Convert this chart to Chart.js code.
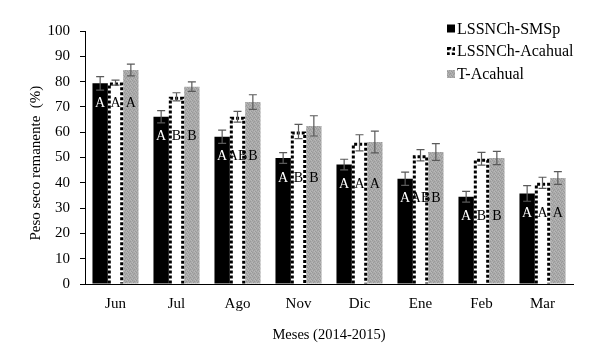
<!DOCTYPE html>
<html><head><meta charset="utf-8">
<script src="https://cdn.jsdelivr.net/npm/chart.js@4"></script>
<style>html,body{margin:0;padding:0;background:#fff}#c{display:block}</style>
</head><body>
<canvas id="c" width="609" height="355"></canvas>
<script>
const months = ['Jun','Jul','Ago','Nov','Dic','Ene','Feb','Mar'];
const seriesNames = ['LSSNCh-SMSp','LSSNCh-Acahual','T-Acahual'];
const smsp = [79.3, 66.1, 58.2, 49.8, 47.2, 41.6, 34.5, 35.8];
const smspErr = [2.7, 2.4, 2.6, 2.1, 2.1, 2.6, 2.1, 3.1];
const acahual = [79.6, 74.0, 66.1, 60.3, 55.8, 50.9, 49.5, 40.0];
const acahualErr = [1.0, 1.6, 2.1, 2.8, 3.2, 2.2, 2.5, 2.2];
const tAcahual = [84.6, 78.0, 71.9, 62.5, 56.1, 52.2, 49.8, 41.9];
const tAcahualErr = [2.3, 1.9, 2.9, 4.0, 4.3, 3.3, 2.6, 2.5];
const smspLetters = ['A','A','A','A','A','A','A','A'];
const acahualLetters = ['A','B','AB','B','A','AB','B','A'];
const tAcahualLetters = ['A','B','B','B','A','B','B','A'];
const yMin = 0, yMax = 100, yStep = 10;
const yTitle = 'Peso seco remanente  (%)   ';
const xTitle = 'Meses (2014-2015)';

const SERIF = '"Liberation Serif", "Times New Roman", serif';

// stippled gray pattern
function grayPattern() {
  const c = document.createElement('canvas');
  c.width = 4; c.height = 4;
  const g = c.getContext('2d');
  g.fillStyle = '#aaaaaa'; g.fillRect(0,0,4,4);
  g.fillStyle = '#999999';
  [[0,0],[2,1],[1,2],[3,3]].forEach(p => g.fillRect(p[0],p[1],1,1));
  g.fillStyle = '#b8b8b8';
  [[2,3],[0,2],[3,0]].forEach(p => g.fillRect(p[0],p[1],1,1));
  return document.getElementById('c').getContext('2d').createPattern(c, 'repeat');
}
const grayFill = grayPattern();

const errs = [smspErr, acahualErr, tAcahualErr];
const letters = [smspLetters, acahualLetters, tAcahualLetters];
const letterSizes = [14, 14, 14];

const overlay = {
  id: 'overlay',
  afterDatasetsDraw(chart) {
    const ctx = chart.ctx;
    const y = chart.scales.y;
    // dashed border for white bars
    const m1 = chart.getDatasetMeta(1);
    ctx.save();
    ctx.strokeStyle = '#000';
    ctx.lineWidth = 3;
    ctx.setLineDash([3, 2]);
    m1.data.forEach(bar => {
      const p = bar.getProps(['x','y','base','width'], true);
      const l = p.x - p.width/2 + 1.5, r = p.x + p.width/2 - 1.5, t = p.y + 1.5;
      ctx.beginPath();
      ctx.moveTo(l, p.base); ctx.lineTo(l, t); ctx.lineTo(r, t); ctx.lineTo(r, p.base);
      ctx.stroke();
    });
    ctx.restore();
    // letters
    ctx.save();
    ctx.textAlign = 'center';
    ctx.textBaseline = 'middle';
    const m0 = chart.getDatasetMeta(0);
    for (let d = 0; d < 3; d++) {
      const meta = chart.getDatasetMeta(d);
      ctx.font = letterSizes[d] + 'px ' + SERIF;
      meta.data.forEach((bar, i) => {
        const ly = m0.data[i].y + 20;
        ctx.fillStyle = d === 0 ? '#fff' : '#000';
        ctx.fillText(letters[d][i], bar.x, ly);
      });
    }
    ctx.restore();
    // error bars
    ctx.save();
    ctx.strokeStyle = '#5a5a5a';
    ctx.lineWidth = 1.2;
    for (let d = 0; d < 3; d++) {
      const meta = chart.getDatasetMeta(d);
      const vals = chart.data.datasets[d].data;
      meta.data.forEach((bar, i) => {
        const hi = y.getPixelForValue(vals[i] + errs[d][i]);
        const lo = y.getPixelForValue(vals[i] - errs[d][i]);
        ctx.beginPath();
        ctx.moveTo(bar.x, hi); ctx.lineTo(bar.x, lo);
        ctx.moveTo(bar.x - 4, hi); ctx.lineTo(bar.x + 4, hi);
        ctx.moveTo(bar.x - 4, lo); ctx.lineTo(bar.x + 4, lo);
        ctx.stroke();
      });
    }
    ctx.restore();
  },
  afterDraw(chart) {
    const ctx = chart.ctx;
    ctx.save();
    ctx.font = '16px ' + SERIF;
    ctx.textBaseline = 'middle';
    ctx.textAlign = 'left';
    const x0 = 447, ys = [28.5, 51, 74];
    // marker 1
    ctx.fillStyle = '#000';
    ctx.fillRect(x0, ys[0]-4, 8, 8);
    // marker 2
    ctx.fillStyle = '#fff';
    ctx.fillRect(x0, ys[1]-4, 8, 8);
    ctx.strokeStyle = '#000'; ctx.lineWidth = 2.5; ctx.setLineDash([3,2]);
    ctx.strokeRect(x0+1.25, ys[1]-2.75, 5.5, 5.5);
    ctx.setLineDash([]);
    // marker 3
    ctx.fillStyle = grayFill;
    ctx.fillRect(x0, ys[2]-4, 8, 8);
    ctx.fillStyle = '#000';
    seriesNames.forEach((n, i) => ctx.fillText(n, x0 + 10, ys[i] + 1));
    ctx.restore();
  }
};

new Chart(document.getElementById('c'), {
  type: 'bar',
  data: {
    labels: months,
    datasets: [
      { label: seriesNames[0], data: smsp, backgroundColor: '#000' },
      { label: seriesNames[1], data: acahual, backgroundColor: '#fff' },
      { label: seriesNames[2], data: tAcahual, backgroundColor: grayFill }
    ]
  },
  options: {
    responsive: false,
    devicePixelRatio: 1,
    animation: false,
    events: [],
    datasets: { bar: { categoryPercentage: 0.755, barPercentage: 1.0, borderWidth: 0 } },
    layout: { padding: { left: 0, top: 31, right: 36, bottom: 0 } },
    plugins: { legend: { display: false }, tooltip: { enabled: false }, title: { display: false } },
    scales: {
      x: {
        grid: { display: false, drawTicks: false },
        border: { display: true, color: '#000', width: 1 },
        ticks: { color: '#000', font: { family: SERIF, size: 15 }, padding: 11, maxRotation: 0 },
        title: { display: true, text: xTitle, color: '#000', font: { family: SERIF, size: 14.5 }, padding: { top: 0, bottom: 11 } },
        afterFit: s => { s.height = 71; }
      },
      y: {
        min: yMin, max: yMax,
        grid: { display: true, drawOnChartArea: false, drawTicks: true, tickLength: 5, color: '#000' },
        border: { display: true, color: '#000', width: 1 },
        ticks: { stepSize: yStep, color: '#000', font: { family: SERIF, size: 15 }, padding: 10 },
        title: { display: true, text: yTitle, color: '#000', font: { family: SERIF, size: 15 }, padding: { top: 27, bottom: 0 } },
        afterFit: s => { s.width = 85; }
      }
    }
  },
  plugins: [overlay]
});
</script>
</body></html>
